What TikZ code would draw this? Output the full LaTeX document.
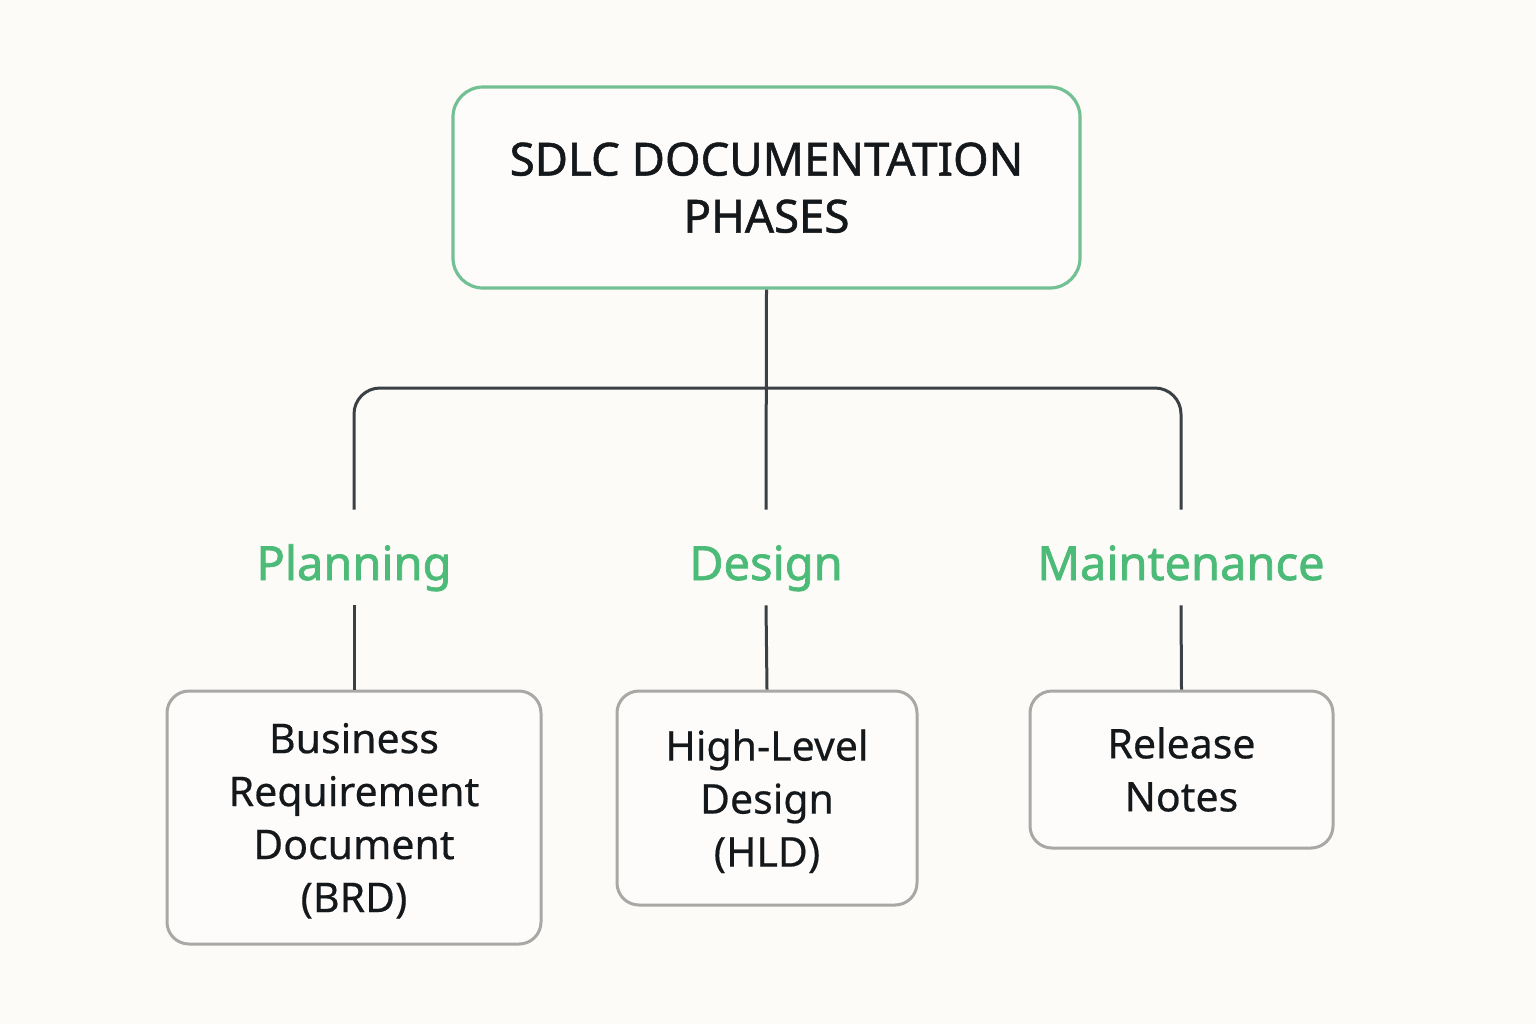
\documentclass[tikz,border=0pt]{standalone}
\usepackage{fontspec}
\setmainfont{Noto Sans}
\newfontfamily\titlefont[FakeBold=1.2]{Noto Sans}
\newfontfamily\phasefont[FakeBold=1.5]{Noto Sans}
\newfontfamily\docfont[FakeBold=0.4]{Noto Sans}
\begin{document}
\begin{tikzpicture}[x=0.5pt,y=-0.5pt,
  conn/.style={draw=linec, line width=1.5pt},
  topbox/.style={draw=topg, line width=1.6pt, rounded corners=15pt, fill=boxbg, align=center, text=txt, inner sep=0pt},
  docbox/.style={draw=grayb, line width=1.5pt, rounded corners=11pt, fill=boxbg, align=center, text=txt, inner sep=0pt,
    font=\docfont\fontsize{20.5pt}{26.5pt}\selectfont},
  phase/.style={text=phg, inner sep=0pt, minimum height=47.5pt, text height=26pt, text depth=3.5pt,
    font=\phasefont\fontsize{23.5pt}{28pt}\selectfont}]
\definecolor{bg}{HTML}{FCFBF8}
\definecolor{boxbg}{HTML}{FDFCFA}
\definecolor{topg}{HTML}{74C095}
\definecolor{phg}{HTML}{4CBB78}
\definecolor{grayb}{HTML}{A8A8A6}
\definecolor{linec}{HTML}{3B4045}
\definecolor{txt}{HTML}{15181B}
\fill[bg] (0,0) rectangle (1536,1024);
\useasboundingbox (0,0) rectangle (1536,1024);

\node[topbox, minimum width=313.5pt, minimum height=100.5pt, text depth=0pt,
  font=\titlefont\fontsize{22.8pt}{28.5pt}\selectfont] (top) at (766.5,187.5) {SDLC DOCUMENTATION\\PHASES};

\node[phase] (plan) at (354,557.5) {Planning};
\node[phase] (des) at (766,557.5) {Design};
\node[phase] (maint) at (1181,557.5) {Maintenance};

\node[docbox, minimum width=187pt, minimum height=126.5pt, text depth=0pt] (brd) at (354,817.5) {Business\\Requirement\\Document\\(BRD)};
\node[docbox, minimum width=150pt, minimum height=107pt, text depth=0pt] (hld) at (767,798) {High-Level\\Design\\(HLD)};
\node[docbox, minimum width=151.5pt, minimum height=78.5pt] (rel) at (1181.5,769.5) {Release\\Notes};

\coordinate (J) at (766,388);
\draw[conn] (top.south) -- (des.north);
\draw[conn, rounded corners=13pt] (plan.north) |- (J) -| (maint.north);
\draw[conn] (plan.south) -- (brd.north);
\draw[conn] (des.south) -- (hld.north);
\draw[conn] (maint.south) -- (rel.north);
\end{tikzpicture}
\end{document}
